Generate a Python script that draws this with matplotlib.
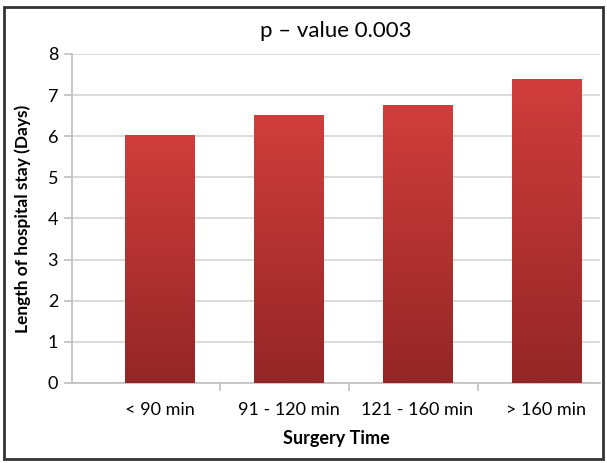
import numpy as np
import matplotlib.pyplot as plt
from matplotlib.patches import Rectangle

categories = ["< 90 min", "91 - 120 min", "121 - 160 min", "> 160 min"]
stay_days = [6.03, 6.52, 6.76, 7.40]

plt.rcParams['font.family'] = ['Lato', 'DejaVu Sans']

fig = plt.figure(figsize=(6.07, 4.63), dpi=100)
ax = fig.add_axes([0.1186, 0.1728, 0.8706, 0.7106])

x = np.arange(len(categories))
bars = ax.bar(x + 0.03, stay_days, width=0.54, color='none', zorder=3)

# vertical red gradient, lighter at the top
grad = np.linspace(0, 1, 256).reshape(-1, 1)
top_col = np.array([208, 62, 60]) / 255
bot_col = np.array([148, 38, 38]) / 255
img = bot_col + grad[..., None] * (top_col - bot_col)
for b in bars:
    bx, by = b.get_x(), b.get_y()
    w, h = b.get_width(), b.get_height()
    im = ax.imshow(img, extent=[bx, bx + w, 0, h], origin='lower',
                   aspect='auto', zorder=3)
    clip = Rectangle((bx, by), w, h, transform=ax.transData)
    im.set_clip_path(clip)

ax.set_xlim(-0.65, 3.45)
ax.set_ylim(0, 8)
ax.set_yticks(range(0, 9))
ax.yaxis.grid(True, color='#d4d4d4', linewidth=1.2, zorder=0)
ax.set_axisbelow(True)

ax.set_xticks(x + 0.03)
ax.set_xticklabels(categories, fontsize=13)
ax.set_xticks([0.5, 1.5, 2.5], minor=True)
ax.tick_params(axis='x', which='major', length=0, pad=14)
ax.tick_params(axis='x', which='minor', length=6, color='#bfbfbf', width=1.2)
ax.tick_params(axis='y', length=6, color='#bfbfbf', width=1.2, labelsize=13, pad=4)

for s in ['top', 'right']:
    ax.spines[s].set_visible(False)
for s in ['left', 'bottom']:
    ax.spines[s].set_color('#bfbfbf')
    ax.spines[s].set_linewidth(1.2)

ax.set_title("p \u2013 value 0.003", fontsize=16, pad=12)
ax.set_xlabel("Surgery Time", fontsize=13, fontweight='bold', labelpad=8)
ax.set_ylabel("Length of hospital stay (Days)", fontsize=12.5, fontweight='bold', labelpad=12)

# outer frame
fig.add_artist(Rectangle((0.006, 0.008), 0.988, 0.976, transform=fig.transFigure,
                         fill=False, edgecolor='#333333', linewidth=2))

fig.savefig("out.png", dpi=100)
